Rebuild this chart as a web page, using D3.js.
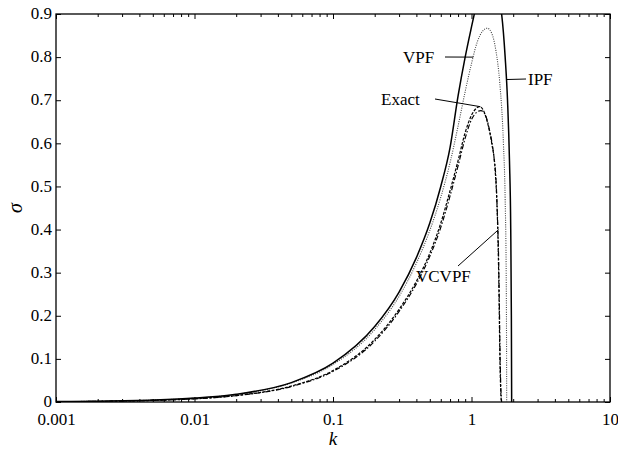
<!DOCTYPE html>
<html>
<head>
<meta charset="utf-8">
<script src="https://cdn.jsdelivr.net/npm/d3@7"></script>
<style>
  body { margin: 0; background: #fff; }
  text { font-family: "Liberation Serif", "Times New Roman", serif; }
</style>
</head>
<body>
<div id="chart"></div>
<script>
// size of the page
const width = 618;
const height = 453;
const margin = {top: 14, right: 8, bottom: 51, left: 56};

// curves, k then sigma
const ipfK = [0.001, 0.002, 0.005, 0.01, 0.02, 0.05, 0.1, 0.2, 0.3, 0.4, 0.5, 0.6, 0.7, 0.8, 0.9, 1.0, 1.1, 1.2, 1.35, 1.5, 1.6, 1.65, 1.75, 1.82, 1.88, 1.92, 1.94, 1.95];
const ipfS = [0.0009, 0.0018, 0.0045, 0.009, 0.018, 0.045, 0.09, 0.175, 0.255, 0.335, 0.415, 0.5, 0.59, 0.71, 0.8, 0.87, 0.93, 0.98, 1.0, 0.97, 0.93, 0.9, 0.8, 0.7, 0.56, 0.4, 0.2, 0.0];

const vpfK = [0.001, 0.002, 0.005, 0.01, 0.02, 0.05, 0.1, 0.2, 0.3, 0.4, 0.5, 0.6, 0.7, 0.8, 0.9, 1.0, 1.1, 1.2, 1.3, 1.4, 1.5, 1.6, 1.7, 1.75, 1.78, 1.79, 1.795];
const vpfS = [0.0009, 0.0018, 0.0044, 0.0088, 0.0175, 0.044, 0.087, 0.168, 0.245, 0.322, 0.398, 0.475, 0.555, 0.64, 0.72, 0.785, 0.835, 0.86, 0.867, 0.855, 0.815, 0.74, 0.6, 0.47, 0.3, 0.15, 0.0];

const exactK = [0.001, 0.002, 0.005, 0.01, 0.02, 0.05, 0.1, 0.2, 0.3, 0.4, 0.5, 0.6, 0.7, 0.8, 0.9, 1.0, 1.1, 1.15, 1.2, 1.3, 1.4, 1.48, 1.53, 1.56, 1.58, 1.6, 1.62, 1.64];
const exactS = [0.0007, 0.0015, 0.0037, 0.0075, 0.015, 0.037, 0.073, 0.145, 0.215, 0.28, 0.345, 0.415, 0.49, 0.56, 0.625, 0.665, 0.683, 0.685, 0.68, 0.65, 0.6, 0.54, 0.45, 0.35, 0.25, 0.12, 0.04, 0.0];

const vcvpfK = [0.001, 0.002, 0.005, 0.01, 0.02, 0.05, 0.1, 0.2, 0.3, 0.4, 0.5, 0.6, 0.7, 0.8, 0.9, 1.0, 1.1, 1.17, 1.25, 1.35, 1.45, 1.5, 1.54, 1.57, 1.59, 1.61, 1.63, 1.65];
const vcvpfS = [0.0007, 0.0014, 0.0036, 0.0073, 0.0146, 0.036, 0.071, 0.141, 0.21, 0.274, 0.338, 0.405, 0.478, 0.548, 0.612, 0.655, 0.673, 0.676, 0.668, 0.63, 0.57, 0.52, 0.43, 0.33, 0.22, 0.1, 0.03, 0.0];

// axis ticks
const xMajor = [0.001, 0.01, 0.1, 1, 10];
const xMajorLabels = ["0.001", "0.01", "0.1", "1", "10"];
const yTicks = [0, 0.1, 0.2, 0.3, 0.4, 0.5, 0.6, 0.7, 0.8, 0.9];

const zip = (ks, ss) => ks.map((k, i) => ({k: k, s: ss[i]}));

const svg = d3.select("#chart").append("svg")
    .attr("width", width)
    .attr("height", height);

const x = d3.scaleLog().domain([0.001, 10]).range([margin.left, width - margin.right]);
const y = d3.scaleLinear().domain([0, 0.9]).range([height - margin.bottom, margin.top]);

// minor tick positions 2..9 in every decade
let xMinor = [];
[0.001, 0.01, 0.1, 1].forEach(function(d) {
    for (let m = 2; m <= 9; m++) xMinor.push(d * m);
});

svg.append("clipPath").attr("id", "plot")
   .append("rect")
   .attr("x", margin.left).attr("y", margin.top)
   .attr("width", width - margin.left - margin.right)
   .attr("height", height - margin.top - margin.bottom);

const bottom = height - margin.bottom;
const right = width - margin.right;

// bottom axis
svg.append("g").attr("transform", "translate(0," + bottom + ")")
   .call(d3.axisBottom(x).tickValues(xMinor).tickSize(-3).tickSizeOuter(0).tickFormat(""));
svg.append("g").attr("class", "xmaj").attr("transform", "translate(0," + bottom + ")")
   .call(d3.axisBottom(x).tickValues(xMajor).tickSize(-5).tickSizeOuter(0).tickPadding(8)
         .tickFormat(function(d, i) { return xMajorLabels[i]; }));

// top axis
svg.append("g").attr("transform", "translate(0," + margin.top + ")")
   .call(d3.axisTop(x).tickValues(xMinor).tickSize(-3).tickSizeOuter(0).tickFormat(""));
svg.append("g").attr("transform", "translate(0," + margin.top + ")")
   .call(d3.axisTop(x).tickValues(xMajor).tickSize(-5).tickSizeOuter(0).tickFormat(""));

// left and right axes
svg.append("g").attr("class", "ylab").attr("transform", "translate(" + margin.left + ",0)")
   .call(d3.axisLeft(y).tickValues(yTicks).tickSize(-5).tickSizeOuter(0).tickPadding(4)
         .tickFormat(function(d) { return d === 0 ? "0" : d3.format(".1f")(d); }));
svg.append("g").attr("transform", "translate(" + right + ",0)")
   .call(d3.axisRight(y).tickValues(yTicks).tickSize(-5).tickSizeOuter(0).tickFormat(""));

svg.selectAll(".domain").remove();
svg.selectAll(".tick line").attr("stroke", "#000").attr("stroke-width", 1);
svg.selectAll(".tick text")
   .style("font-family", "'Liberation Serif', serif")
   .style("font-size", "17px")
   .attr("fill", "#000");
svg.selectAll(".xmaj .tick text").attr("dy", "0.87em");
svg.selectAll(".ylab .tick text").attr("dy", "0.28em");

// frame
svg.append("rect")
   .attr("x", margin.left).attr("y", margin.top)
   .attr("width", right - margin.left).attr("height", bottom - margin.top)
   .attr("fill", "none").attr("stroke", "#000").attr("stroke-width", 1.3);

const line = d3.line()
    .x(function(d) { return x(d.k); })
    .y(function(d) { return y(d.s); })
    .curve(d3.curveMonotoneX);

const curves = svg.append("g").attr("clip-path", "url(#plot)").attr("fill", "none");

curves.append("path").datum(zip(vpfK, vpfS))
   .attr("d", line).attr("stroke", "#444").attr("stroke-width", 1.1)
   .attr("stroke-dasharray", "1,1.3");
curves.append("path").datum(zip(vcvpfK, vcvpfS))
   .attr("d", line).attr("stroke", "#000").attr("stroke-width", 1.2)
   .attr("stroke-dasharray", "5,2,1.5,2");
curves.append("path").datum(zip(exactK, exactS))
   .attr("d", line).attr("stroke", "#000").attr("stroke-width", 1.2)
   .attr("stroke-dasharray", "3,1.5");
curves.append("path").datum(zip(ipfK, ipfS))
   .attr("d", line).attr("stroke", "#000").attr("stroke-width", 1.5);

// curve labels with leader lines
const labels = [
    {text: "VPF",   tx: 403, ty: 63,  x1: 445, y1: 57,  k: 1.03, s: 0.80},
    {text: "IPF",   tx: 528, ty: 85,  x1: 526, y1: 79,  k: 1.80, s: 0.748},
    {text: "Exact", tx: 381, ty: 105, x1: 435, y1: 99,  k: 1.16, s: 0.685},
    {text: "VCVPF", tx: 416, ty: 282, x1: 458, y1: 266, k: 1.57, s: 0.40}
];
labels.forEach(function(d) {
    svg.append("line")
       .attr("x1", d.x1).attr("y1", d.y1)
       .attr("x2", x(d.k)).attr("y2", y(d.s))
       .attr("stroke", "#000").attr("stroke-width", 1);
    svg.append("text")
       .attr("x", d.tx).attr("y", d.ty)
       .style("font-size", "17px")
       .text(d.text);
});

// axis titles
svg.append("text")
   .attr("x", (margin.left + right) / 2).attr("y", 445)
   .attr("text-anchor", "middle")
   .style("font-size", "19px").style("font-style", "italic")
   .text("k");
svg.append("text")
   .attr("transform", "translate(22," + (margin.top + bottom) / 2 + ") rotate(-90)")
   .attr("text-anchor", "middle")
   .style("font-size", "20px").style("font-style", "italic")
   .text("σ");
</script>
</body>
</html>
